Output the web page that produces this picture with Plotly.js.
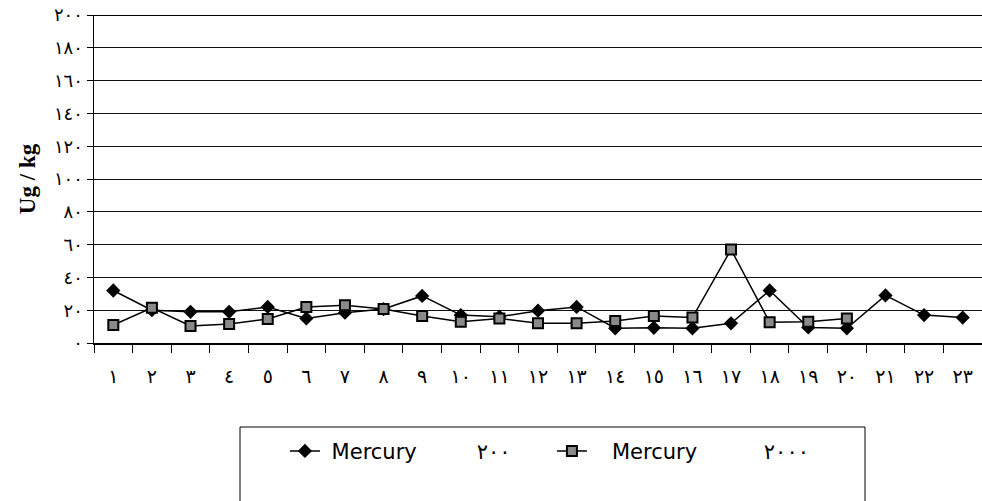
<!DOCTYPE html>
<html><head><meta charset="utf-8">
<script src="https://cdn.plot.ly/plotly-3.0.1.min.js"></script>
<style>body{margin:0;background:#fff}#c{width:982px;height:501px}</style>
</head><body><div id="c"></div>
<script>
const categories = ['١','٢','٣','٤','٥','٦','٧','٨','٩','١٠','١١','١٢','١٣','١٤','١٥','١٦','١٧','١٨','١٩','٢٠','٢١','٢٢','٢٣'];
const mercury200 = [32, 20, 19, 19, 22, 15, 18.5, 20.7, 28.7, 17, 16, 19.7, 22, 9, 9.3, 9, 12, 32, 9.5, 9, 29, 17, 15.5];
const mercury2000 = [11, 21.5, 10.4, 11.6, 14.6, 22, 23, 20.7, 16.5, 13, 15, 12, 12, 13.4, 16.5, 15.5, 57, 12.6, 13, 15, null, null, null];
const yTickVals = [0,20,40,60,80,100,120,140,160,180,200];
const yTickText = ['٠','٢٠','٤٠','٦٠','٨٠','١٠٠','١٢٠','١٤٠','١٦٠','١٨٠','٢٠٠'];
const name1 = '\u00a0Mercury\u00a0\u00a0\u00a0\u00a0\u00a0\u00a0\u00a0\u00a0\u00a0٢٠٠';
const name2 = '\u00a0\u00a0\u00a0Mercury\u00a0\u00a0\u00a0\u00a0\u00a0\u00a0\u00a0\u00a0\u00a0\u00a0٢٠٠٠';

const traces = [
  {x: categories, y: mercury200, name: name1, type: 'scatter', mode: 'lines+markers',
   line: {color: '#000', width: 1.5},
   marker: {symbol: 'diamond', size: 11, color: '#000'}},
  {x: categories, y: mercury2000, name: name2, type: 'scatter', mode: 'lines+markers',
   line: {color: '#000', width: 1.5},
   marker: {symbol: 'square', size: 10, color: '#8a8a8a', line: {color: '#000', width: 2}}}
];
const layout = {
  width: 982, height: 501,
  margin: {l: 94, r: 0, t: 15, b: 158},
  paper_bgcolor: '#fff', plot_bgcolor: '#fff',
  showlegend: true,
  font: {family: 'DejaVu Sans', color: '#000'},
  xaxis: {type: 'category', range: [-0.5, 22.5], tickson: 'boundaries', ticks: 'outside', ticklen: 8, tickcolor: '#000',
    showgrid: false, showline: true, linecolor: '#000', linewidth: 1.5, zeroline: false,
    tickfont: {size: 19, family: 'DejaVu Sans'}, ticklabelstandoff: 16, fixedrange: true},
  yaxis: {range: [0, 200], tickvals: yTickVals, ticktext: yTickText, ticks: 'outside', ticklen: 6,
    tickcolor: '#000', showgrid: true, gridcolor: '#111', gridwidth: 1, showline: true,
    linecolor: '#000', linewidth: 1.5, zeroline: false, tickfont: {size: 18, family: 'DejaVu Sans'},
    title: {text: '<b>Ug / kg</b>', font: {family: 'Liberation Serif', size: 23}, standoff: 12}},
  legend: {orientation: 'h', x: 0.215, xanchor: 'left', y: -0.33, yanchor: 'middle',
    font: {family: 'DejaVu Sans', size: 21}, bgcolor: 'rgba(0,0,0,0)', borderwidth: 0,
    entrywidth: 222, entrywidthmode: 'pixels'},
  shapes: [
    {type: 'line', xref: 'paper', yref: 'y', x0: 0, x1: 1, y0: 200, y1: 200, line: {color: '#000', width: 2}},
    {type: 'rect', xref: 'paper', yref: 'paper', x0: (240-94)/888, x1: (865-94)/888,
     y0: (343-427)/328, y1: (343-515)/328, line: {color: '#000', width: 1}}
  ]
};
Plotly.newPlot('c', traces, layout, {displayModeBar: false, staticPlot: true});
</script></body></html>
